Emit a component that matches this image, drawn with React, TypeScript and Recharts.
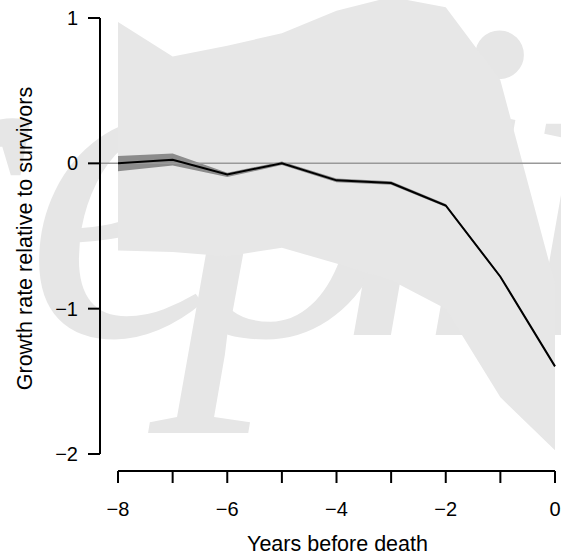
import {
  ComposedChart,
  Area,
  Line,
  XAxis,
  YAxis,
  ReferenceLine,
} from 'recharts';

// years before death
const years = [-8, -7, -6, -5, -4, -3, -2, -1, 0];
// growth rate relative to survivors
const estimate = [0.0, 0.025, -0.076, 0.0, -0.117, -0.135, -0.29, -0.78, -1.397];
const innerLow = [-0.055, -0.014, -0.094, -0.012, -0.13, -0.147, -0.3, -0.788, -1.403];
const innerHigh = [0.05, 0.067, -0.064, 0.012, -0.105, -0.123, -0.28, -0.772, -1.391];
const outerLow = [-0.6, -0.61, -0.64, -0.58, -0.69, -0.805, -1.0, -1.61, -1.975];
const outerHigh = [0.972, 0.736, 0.81, 0.895, 1.05, 1.145, 1.074, 0.571, -0.83];

const yTicks = [-2, -1, 0, 1];

const X_MIN = -8.33;
const X_MAX = 0.11;
const Y_MIN = -2.117;
const Y_MAX = 1.124;

const data = years.map((year, i) => ({
  year,
  estimate: estimate[i],
  inner: [innerLow[i], innerHigh[i]],
  outer: [outerLow[i], outerHigh[i]],
}));

const fmt = (v: number) => (v < 0 ? `\u2212${Math.abs(v)}` : `${v}`);

const FONT = '"Liberation Sans", Arial, Helvetica, sans-serif';

export default function App() {
  return (
    <div style={{ position: 'absolute', left: 0, top: 0, width: 561, height: 559 }}>
      {/* faint watermark behind the chart */}
      <svg width={561} height={559} style={{ position: 'absolute', left: 0, top: 0 }}>
        <text
          x="-330 -150 25 175 335 410 520 720"
          y={335}
          fontFamily='"Liberation Serif", "Times New Roman", serif'
          fontStyle="italic"
          fontSize={460}
          fill="#e6e6e6"
        >
          preprint
        </text>
      </svg>
      <div style={{ position: 'absolute', left: 0, top: 0 }}>
        <ComposedChart
          width={561}
          height={559}
          data={data}
          margin={{ top: 0, right: 0, bottom: 0, left: 0 }}
        >
          <XAxis
            dataKey="year"
            type="number"
            domain={[X_MIN, X_MAX]}
            allowDataOverflow
            ticks={years}
            interval={0}
            tickFormatter={(v: number) => (v % 2 === 0 ? fmt(v) : '')}
            axisLine={false}
            tickLine={{ stroke: '#000', strokeWidth: 2 }}
            tickSize={12}
            tickMargin={19}
            height={88}
            tick={{ fill: '#000', fontSize: 20, fontFamily: FONT }}
            label={{
              value: 'Years before death',
              position: 'insideBottom',
              offset: 8,
              dx: 7,
              fill: '#000',
              fontSize: 21.5,
              fontFamily: FONT,
            }}
          />
          <YAxis
            type="number"
            domain={[Y_MIN, Y_MAX]}
            allowDataOverflow
            ticks={yTicks}
            interval={0}
            tickFormatter={fmt}
            axisLine={false}
            tickLine={{ stroke: '#000', strokeWidth: 2 }}
            tickSize={12}
            tickMargin={10}
            width={100}
            tick={{ fill: '#000', fontSize: 20, fontFamily: FONT }}
            label={{
              value: 'Growth rate relative to survivors',
              angle: -90,
              position: 'insideLeft',
              offset: 24,
              dy: 3,
              fill: '#000',
              fontSize: 21.5,
              fontFamily: FONT,
              style: { textAnchor: 'middle' },
            }}
          />
          <Area
            type="linear"
            dataKey="outer"
            stroke="none"
            fill="#e7e7e7"
            fillOpacity={1}
            isAnimationActive={false}
            activeDot={false}
          />
          <Area
            type="linear"
            dataKey="inner"
            stroke="none"
            fill="#8c8c8c"
            fillOpacity={1}
            isAnimationActive={false}
            activeDot={false}
          />
          <ReferenceLine y={0} stroke="#999" strokeWidth={1.5} />
          <Line
            type="linear"
            dataKey="estimate"
            stroke="#000"
            strokeWidth={2}
            dot={false}
            activeDot={false}
            isAnimationActive={false}
          />
          {/* detached R-style axis lines */}
          <ReferenceLine
            ifOverflow="visible"
            segment={[{ x: X_MIN, y: -2 }, { x: X_MIN, y: 1 }]}
            stroke="#000"
            strokeWidth={2}
          />
          <ReferenceLine
            ifOverflow="visible"
            segment={[{ x: years[0], y: Y_MIN }, { x: years[years.length - 1], y: Y_MIN }]}
            stroke="#000"
            strokeWidth={2}
          />
        </ComposedChart>
      </div>
    </div>
  );
}
